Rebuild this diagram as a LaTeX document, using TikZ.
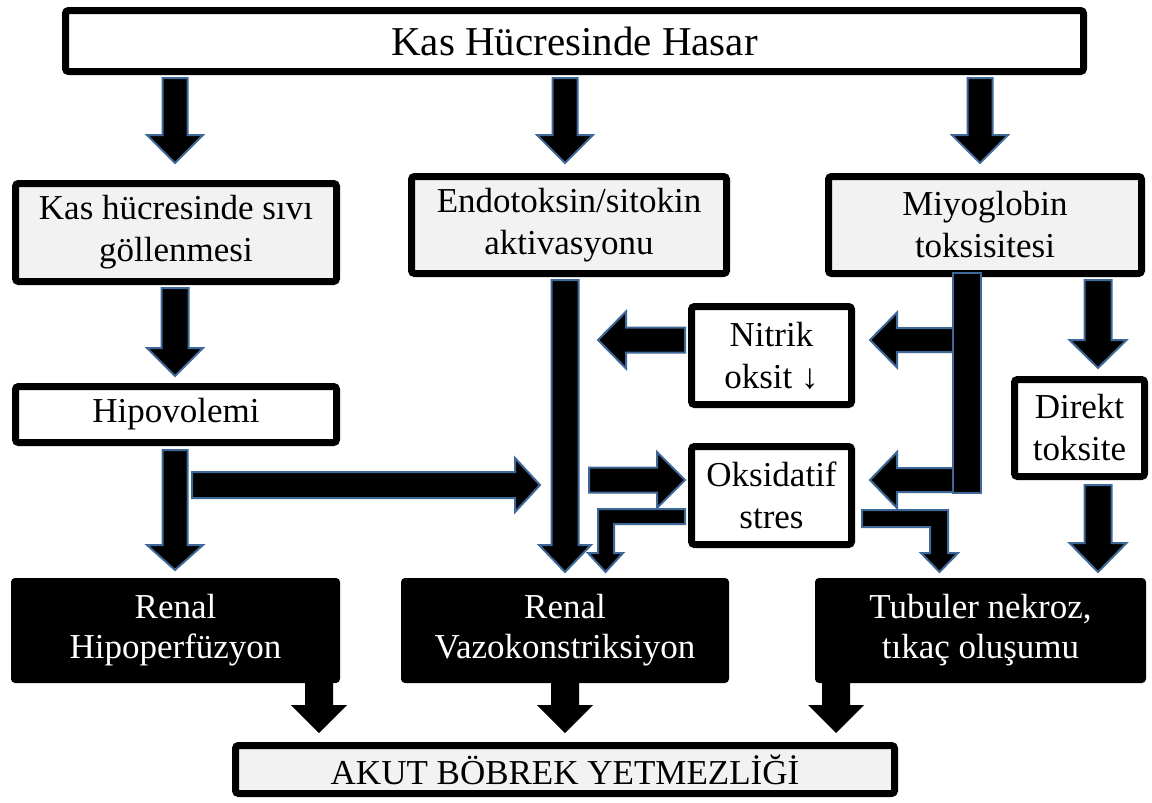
\documentclass[tikz,border=0pt]{standalone}
\usepackage{fontspec}
\setmainfont{Liberation Serif}
\definecolor{arrblue}{RGB}{62,104,152}
\definecolor{boxgray}{RGB}{242,242,242}
\tikzset{
 blockarr/.style={fill=black,draw=arrblue,line width=2pt,line join=miter},
 plainarr/.style={fill=black,draw=none},
 framebox/.style={draw=black,line width=7pt,fill=white,rounded corners=3pt,align=center,inner sep=0pt,font=\fontsize{35}{42}\selectfont},
 graybox/.style={framebox,fill=boxgray},
 darkbox/.style={fill=black,text=white,rounded corners=4pt,align=center,inner sep=0pt,font=\fontsize{35}{40}\selectfont},
}
% down arrow: x, ytop, yhead, ytip, shaft half width, head half width, style
\newcommand\DownArr[7]{\draw[#7] ({#1-#5},#2) -- ({#1+#5},#2) -- ({#1+#5},#3) -- ({#1+#6},#3) -- (#1,#4) -- ({#1-#6},#3) -- ({#1-#5},#3) -- cycle;}
% horizontal arrow: y, xstart, xhead, xtip, shaft half width, head half width, style
\newcommand\HorArr[7]{\draw[#7] (#2,{#1-#5}) -- (#3,{#1-#5}) -- (#3,{#1-#6}) -- (#4,#1) -- (#3,{#1+#6}) -- (#3,{#1+#5}) -- (#2,{#1+#5}) -- cycle;}
\begin{document}
\begin{tikzpicture}[x=1pt,y=-1pt]
\useasboundingbox (0,0) rectangle (1152,803);
% boxes
\node[framebox,minimum width=1018pt,minimum height=61pt,font=\fontsize{41}{48}\selectfont] (T) at (574.5,41) {Kas Hücresinde Hasar};
\node[graybox,minimum width=321pt,minimum height=98pt] (A) at (176,232.5) {Kas hücresinde sıvı\\göllenmesi};
\node[graybox,minimum width=315pt,minimum height=97pt] (B) at (569,225) {Endotoksin/sitokin\\aktivasyonu};
\node[graybox,minimum width=313pt,minimum height=97pt] (C) at (985,225) {Miyoglobin\\toksisitesi};
\node[framebox,minimum width=321pt,minimum height=56pt] (H) at (176,414.5) {Hipovolemi};
\node[framebox,minimum width=160pt,minimum height=98pt] (N) at (771.5,355.5) {Nitrik\\oksit ↓};
\node[framebox,minimum width=160pt,minimum height=98pt] (O) at (771.5,495.5) {Oksidatif\\stres};
\node[framebox,minimum width=130pt,minimum height=97pt] (D) at (1079.5,428) {Direkt\\toksite};
\node[darkbox,minimum width=329pt,minimum height=105pt] (RH) at (175.5,630.5) {Renal\\Hipoperfüzyon};
\node[darkbox,minimum width=328pt,minimum height=105pt] (RV) at (565,630.5) {Renal\\Vazokonstriksiyon};
\node[darkbox,minimum width=331pt,minimum height=105pt] (TN) at (980.5,630.5) {Tubuler nekroz,\\tıkaç oluşumu};
\node[graybox,minimum width=659pt,minimum height=48pt] (AK) at (565,769.5) {AKUT BÖBREK YETMEZLİĞİ};
% arrows from top box
\DownArr{175}{78}{135}{163}{12.5}{28}{blockarr}
\DownArr{565}{78}{135}{163}{12.5}{28}{blockarr}
\DownArr{980}{78}{135}{163}{12.5}{28}{blockarr}
% left column
\DownArr{175}{288}{348}{376}{13.5}{28}{blockarr}
\DownArr{175}{450}{545}{570}{12.5}{28}{blockarr}
\HorArr{485}{192}{515}{540}{13}{27}{blockarr}
% middle column
\DownArr{565}{280}{545}{572}{13.5}{26}{blockarr}
\HorArr{340}{685}{626}{598}{12.5}{28.5}{blockarr}
\HorArr{480}{589}{657}{685}{12.5}{28}{blockarr}
\draw[blockarr] (685,509) -- (598,509) -- (598,553) -- (588,553) -- (605.5,572) -- (623,553) -- (614,553) -- (614,524) -- (685,524) -- cycle;
% right column
\HorArr{340}{955}{897}{870}{12}{27.5}{blockarr}
\HorArr{480}{955}{897}{870}{12}{28}{blockarr}
\draw[blockarr] (953,273) rectangle (981,493);
\draw[blockarr] (862,510) -- (948,510) -- (948,553) -- (958,553) -- (939.5,572) -- (921,553) -- (930,553) -- (930,527) -- (862,527) -- cycle;
\DownArr{1098}{280}{340}{368}{13.5}{28.5}{blockarr}
\DownArr{1098}{485}{543}{572}{13.5}{28.5}{blockarr}
% bottom arrows
\DownArr{319}{683}{705}{733}{14}{28}{plainarr}
\DownArr{565}{683}{705}{733}{14}{28}{plainarr}
\DownArr{836}{683}{705}{733}{14}{28}{plainarr}
\end{tikzpicture}
\end{document}
